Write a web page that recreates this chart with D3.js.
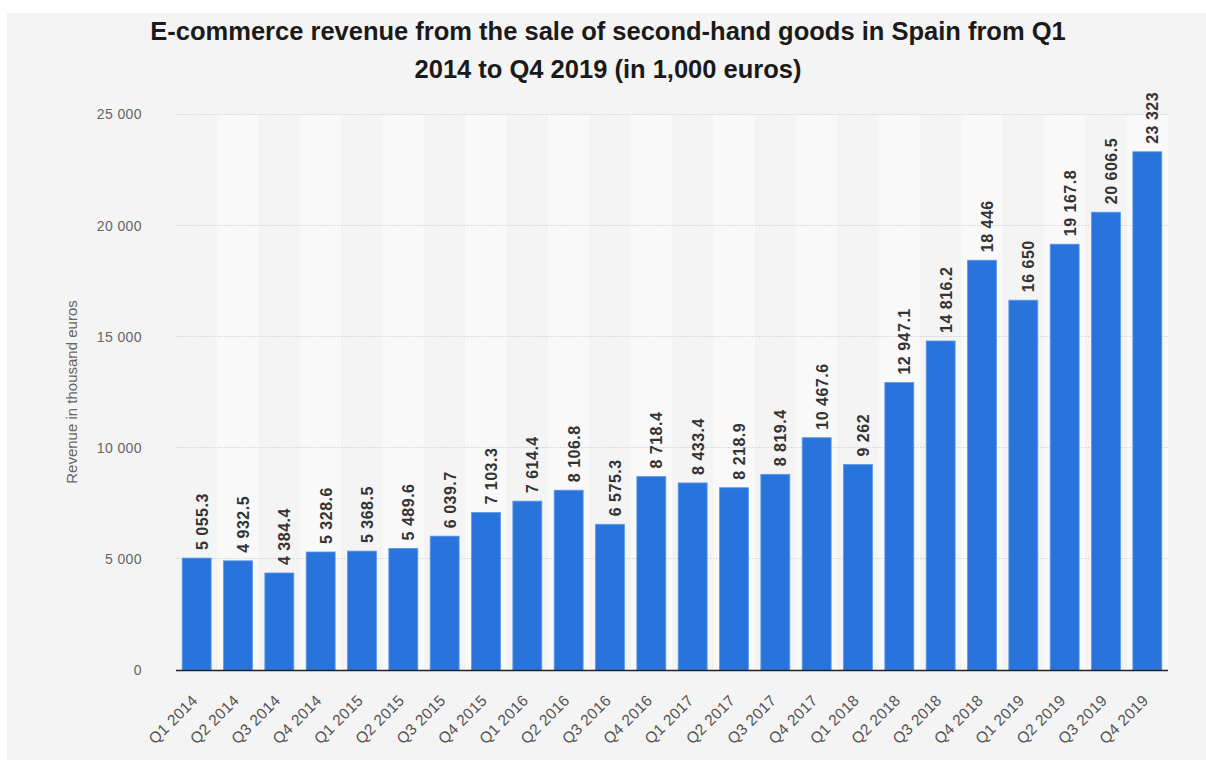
<!DOCTYPE html>
<html><head><meta charset="utf-8">
<script src="https://cdn.jsdelivr.net/npm/d3@7"></script>
<style>
html,body{margin:0;padding:0;background:#fff;}
svg{display:block;}
</style></head>
<body>
<svg id="chart" width="1206" height="760"></svg>
<script>
const categories = ["Q1 2014","Q2 2014","Q3 2014","Q4 2014","Q1 2015","Q2 2015","Q3 2015","Q4 2015","Q1 2016","Q2 2016","Q3 2016","Q4 2016","Q1 2017","Q2 2017","Q3 2017","Q4 2017","Q1 2018","Q2 2018","Q3 2018","Q4 2018","Q1 2019","Q2 2019","Q3 2019","Q4 2019"];
const revenue = [5055.3,4932.5,4384.4,5328.6,5368.5,5489.6,6039.7,7103.3,7614.4,8106.8,6575.3,8718.4,8433.4,8218.9,8819.4,10467.6,9262,12947.1,14816.2,18446,16650,19167.8,20606.5,23323];
const yTicks = [0,5000,10000,15000,20000,25000];
const titleLines = ["E-commerce revenue from the sale of second-hand goods in Spain from Q1","2014 to Q4 2019 (in 1,000 euros)"];
const yAxisTitle = "Revenue in thousand euros";

const locale = d3.formatLocale({decimal:".", thousands:"\u00a0", grouping:[3], currency:["",""]});
const fmt = locale.format(",");
const FONT = "Liberation Sans, Arial, Helvetica, sans-serif";

const svg = d3.select("#chart");
svg.append("rect").attr("x",7).attr("y",13).attr("width",1199).attr("height",747).attr("fill","#f4f4f4");

const pL = 176, pR = 1168, pT = 114.5, pB = 670.5;
const x = d3.scaleBand().domain(categories).range([pL,pR]).paddingInner(0.3).paddingOuter(0.15);
const xb = d3.scaleBand().domain(categories).range([pL,pR]);
const y = d3.scaleLinear().domain([0,25000]).range([pB,pT]);

// alternating bands
svg.append("g").selectAll("rect").data(categories.filter((d,i)=>i%2===1)).join("rect")
  .attr("x",d=>xb(d)).attr("y",pT).attr("width",xb.bandwidth()).attr("height",pB-pT)
  .attr("fill","#f9f9f9");

// gridlines
svg.append("g").selectAll("line").data(yTicks.filter(t=>t>0)).join("line")
  .attr("x1",pL).attr("x2",pR).attr("y1",d=>Math.round(y(d))-0.5).attr("y2",d=>Math.round(y(d))-0.5)
  .attr("stroke","#d2d2d2").attr("stroke-width",1).attr("stroke-dasharray","1.5,1.5");

// y axis labels
const yAxis = d3.axisLeft(y).tickValues(yTicks).tickFormat(d=>fmt(d)).tickSize(0).tickPadding(0);
const gy = svg.append("g").attr("transform",`translate(142,0)`).call(yAxis);
gy.select(".domain").remove();
gy.selectAll("text").attr("font-family",FONT).attr("font-size",14).attr("letter-spacing",0.4).attr("fill","#666");

// bars
svg.append("g").selectAll("rect").data(revenue).join("rect")
  .attr("x",(d,i)=>x(categories[i])).attr("y",d=>y(d))
  .attr("width",x.bandwidth()).attr("height",d=>pB-y(d))
  .attr("fill","#2874dc").attr("stroke","#5a98e6").attr("stroke-width",0.8);

// value labels
svg.append("g").selectAll("text").data(revenue).join("text")
  .attr("transform",(d,i)=>`translate(${x(categories[i])+x.bandwidth()/2+11},${y(d)-8}) rotate(-90)`)
  .attr("font-family",FONT).attr("font-size",16).attr("font-weight","bold").attr("letter-spacing",0.5)
  .attr("fill","#333").attr("text-anchor","start").text(d=>fmt(d));

// x axis
const xAxis = d3.axisBottom(xb).tickSize(0).tickPadding(0);
const gx = svg.append("g").attr("transform",`translate(0,${pB})`).call(xAxis);
gx.select(".domain").remove();
gx.selectAll("text")
  .attr("font-family",FONT).attr("font-size",15.5).attr("letter-spacing",0.3).attr("fill","#555")
  .attr("text-anchor","end").attr("dy",0).attr("y",0)
  .attr("transform","translate(2,31) rotate(-45)");
svg.append("line").attr("x1",pL).attr("x2",pR).attr("y1",pB).attr("y2",pB)
  .attr("stroke","#222").attr("stroke-width",1.5);

// y axis title
svg.append("text").attr("transform","translate(77,392) rotate(-90)")
  .attr("text-anchor","middle").attr("font-family",FONT)
  .attr("font-size",15).attr("fill","#666").text(yAxisTitle);

// title
svg.append("g").selectAll("text").data(titleLines).join("text")
  .attr("x",608).attr("y",(d,i)=>40+i*38)
  .attr("text-anchor","middle").attr("font-family",FONT)
  .attr("font-size",25.5).attr("font-weight","bold").attr("fill","#1a1a1a").text(d=>d);
</script>
</body></html>
